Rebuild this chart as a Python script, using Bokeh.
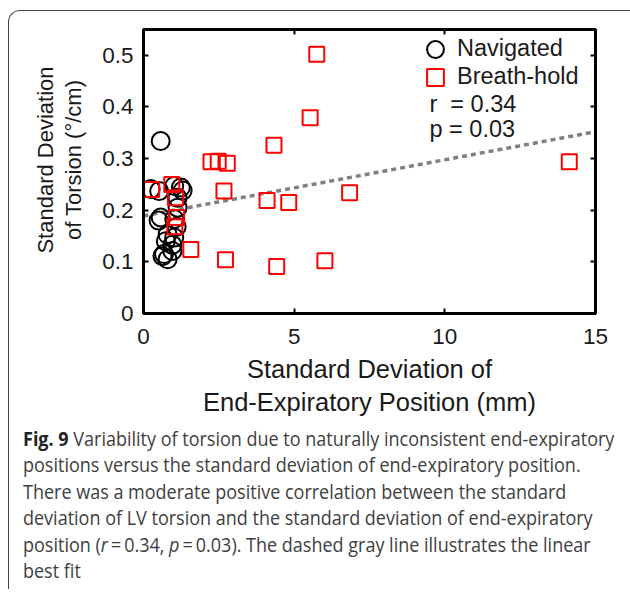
from bokeh.plotting import figure
from bokeh.models import (LinearAxis, Range1d, Legend, LegendItem, Label, Div,
                          FixedTicker, CustomJSTickFormatter)
from bokeh.layouts import column, row
from bokeh.embed import file_html
from bokeh.resources import INLINE

# ---- data ----
nav_x = [0.57, 0.24, 0.52, 1.02, 1.24, 1.30, 1.13, 1.13, 0.57, 0.50,
         1.02, 1.10, 0.80, 0.74, 1.02, 0.96, 0.68, 0.80, 0.63, 0.96]
nav_y = [0.334, 0.241, 0.237, 0.247, 0.244, 0.238, 0.224, 0.205, 0.186, 0.180,
         0.183, 0.168, 0.153, 0.140, 0.147, 0.133, 0.115, 0.105, 0.111, 0.121]
bh_x = [5.75, 5.53, 4.33, 2.24, 2.48, 2.78, 14.13, 2.67, 4.10, 4.82,
        6.84, 1.57, 2.72, 4.42, 6.02, 0.27, 0.94, 1.06, 1.10, 1.04]
bh_y = [0.502, 0.379, 0.326, 0.294, 0.295, 0.291, 0.294, 0.237, 0.219, 0.215,
        0.234, 0.124, 0.104, 0.091, 0.102, 0.240, 0.250, 0.224, 0.186, 0.168]
fit_x = [0, 15]
fit_y = [0.189, 0.352]
x_ticks = [0, 5, 10, 15]
y_ticks = [0, 0.1, 0.2, 0.3, 0.4, 0.5]
series_names = ["Navigated", "Breath-hold"]
stat_texts = ["r\u00a0 = 0.34", "p = 0.03"]
x_title = "Standard Deviation of\nEnd-Expiratory Position (mm)"
y_title_lines = ["Standard Deviation", "of Torsion (\u00b0/cm)"]

FONT = "Liberation Sans"
TXT = "#1a1a1a"
YDIV_W = 90

p = figure(frame_width=452, frame_height=284,
           x_range=Range1d(0, 15), y_range=Range1d(0, 0.55),
           output_backend="svg", toolbar_location=None,
           min_border_left=134 - YDIV_W, min_border_right=27, min_border_top=18,
           min_border_bottom=100,
           background_fill_color="white", border_fill_alpha=0)
p.xgrid.visible = False
p.ygrid.visible = False
p.outline_line_color = "black"
p.outline_line_width = 3

def style_axis(ax, ticks, show_labels=True, standoff=10):
    ax.ticker = FixedTicker(ticks=ticks)
    ax.major_tick_in = 5
    ax.major_tick_out = 0
    ax.major_tick_line_width = 2
    ax.minor_tick_line_color = None
    ax.axis_line_width = 3
    ax.axis_line_color = "black"
    if show_labels:
        ax.major_label_text_font = FONT
        ax.major_label_text_font_size = "22.5px"
        ax.major_label_text_color = TXT
        ax.major_label_standoff = standoff
    else:
        ax.formatter = CustomJSTickFormatter(code="return ''")
        ax.major_label_standoff = 0

style_axis(p.xaxis[0], x_ticks, standoff=15)
style_axis(p.yaxis[0], y_ticks, standoff=10)
p.xaxis[0].axis_label = x_title
p.xaxis[0].axis_label_text_font = FONT
p.xaxis[0].axis_label_text_font_size = "25.5px"
p.xaxis[0].axis_label_text_font_style = "normal"
p.xaxis[0].axis_label_text_color = TXT
p.xaxis[0].axis_label_standoff = 8

ra = LinearAxis()
style_axis(ra, y_ticks, False)
p.add_layout(ra, "right")
ta = LinearAxis()
style_axis(ta, x_ticks, False)
p.add_layout(ta, "above")

# best-fit line
p.line(fit_x, fit_y, line_color="#808080", line_width=3.5, line_dash="5 4")

r_nav = p.scatter(nav_x, nav_y, marker="circle", size=18, fill_color=None,
                  line_color="black", line_width=2)
r_bh = p.scatter(bh_x, bh_y, marker="square", size=15, fill_color=None,
                 line_color="#ff0000", line_width=2)

def make_legend(name, rend, loc):
    return Legend(items=[LegendItem(label=name, renderers=[rend])],
                  location=loc, margin=0, padding=0, spacing=0,
                  glyph_width=42, glyph_height=42, label_standoff=1,
                  label_width=138, label_text_font=FONT,
                  label_text_font_size="23.5px", label_text_color=TXT,
                  border_line_alpha=0, background_fill_alpha=0)

p.add_layout(make_legend(series_names[0], r_nav, (271, 243.5)))
p.add_layout(make_legend(series_names[1], r_bh, (271, 215.5)))

for txt, yv in zip(stat_texts, [0.405, 0.357]):
    p.add_layout(Label(x=9.49, y=yv, text=txt, text_font=FONT,
                       text_font_size="23.5px", text_color=TXT,
                       text_baseline="middle", text_align="left"))

# y-axis title as rotated, centred two-line text beside the plot
ytitle_html = (
    '<div style="position:relative;width:%dpx;height:330px;">'
    '<div style="position:absolute;left:51px;top:149px;'
    'transform:translate(-50%%,-50%%) rotate(-90deg);white-space:nowrap;'
    'text-align:center;font-family:\'Liberation Sans\',Arial,sans-serif;'
    'font-size:22px;line-height:28px;color:%s;">%s<br>%s</div></div>'
) % (YDIV_W, TXT, y_title_lines[0], y_title_lines[1])
ydiv = Div(text=ytitle_html, width=YDIV_W, height=330, margin=0)

caption_html = (
    '<div style="overflow:hidden;width:612px;height:162px;">'
    '<div style="font-family:\'Open Sans\',sans-serif;'
    'font-size:20px;line-height:26.4px;color:#404040;white-space:nowrap;'
    'padding:2px 0 0 10px;transform:scaleX(0.90);transform-origin:0 0;">'
    '<b style="color:#222">Fig. 9</b> Variability of torsion due to naturally inconsistent end-expiratory<br>'
    'positions versus the standard deviation of end-expiratory position.<br>'
    'There was a moderate positive correlation between the standard<br>'
    'deviation of LV torsion and the standard deviation of end-expiratory<br>'
    'position (<i>r</i>\u2009=\u20090.34, <i>p</i>\u2009=\u20090.03). The dashed gray line illustrates the linear<br>'
    'best fit</div></div>'
)
cap = Div(text=caption_html, width=612, height=160)

layout = column(row(ydiv, p), cap,
                styles={"border-top": "1.5px solid #444",
                        "border-left": "1.5px solid #444",
                        "border-top-left-radius": "12px",
                        "margin-top": "10px", "margin-left": "8px"})

open("out.html", "w").write(file_html(layout, INLINE))
